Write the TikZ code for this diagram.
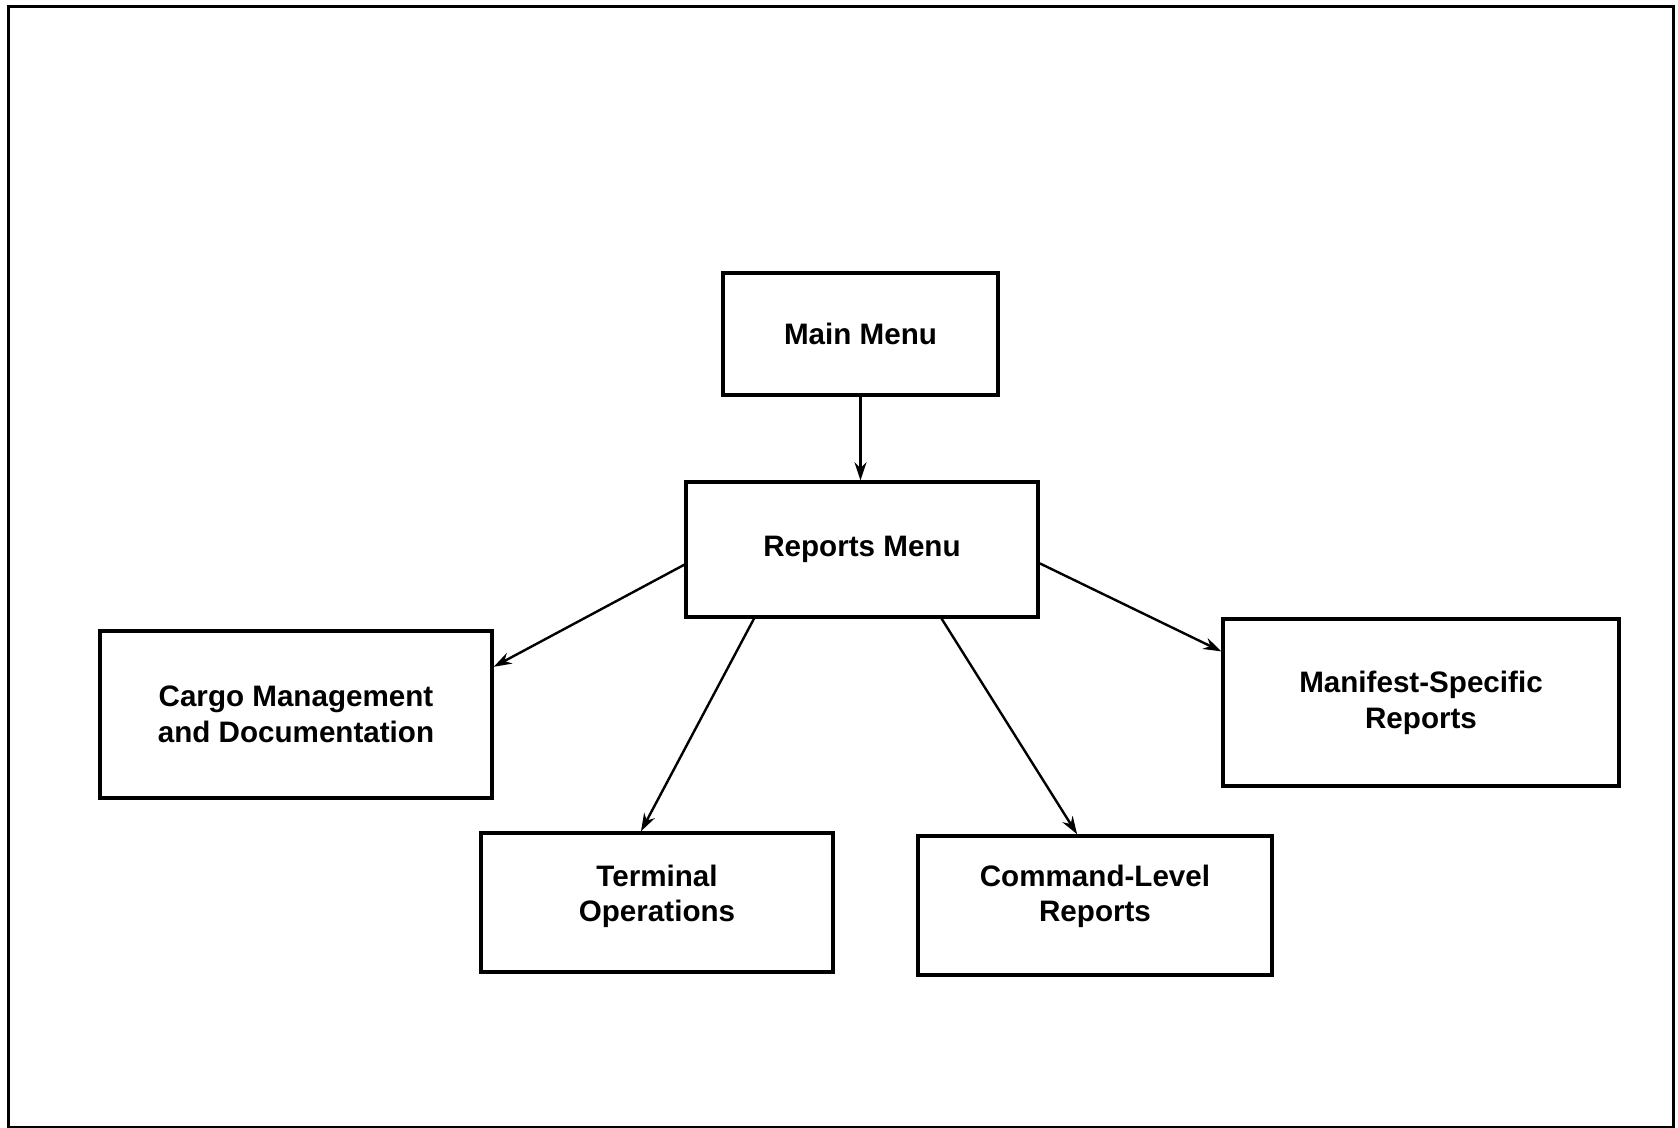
\documentclass[tikz,border=0pt]{standalone}
\usepackage{fontspec}
\setmainfont{Liberation Sans}
\usetikzlibrary{arrows.meta,calc}
\begin{document}
\begin{tikzpicture}[x=0.5pt,y=-0.5pt,
  box/.style={draw,line width=1.7pt,inner sep=0pt,align=center,
    font=\bfseries\fontsize{14.8}{18}\selectfont},
  lbl/.style={inner sep=0pt,align=center,font=\bfseries\fontsize{14.8}{17.5}\selectfont},
  conn/.style={line width=1.2pt,-{Stealth[length=9pt,width=6pt]}}]
\useasboundingbox (0,0) rectangle (1678,1128);
\draw[line width=1.5pt] (8,7) rectangle (1673,1127);
\node[box,minimum width=137.5pt,minimum height=61pt] (main) at (860.5,334) {Main Menu};
\node[box,minimum width=176pt,minimum height=67.5pt] (rep) at (862,549.5) {Reports Menu};
\node[box,minimum width=196pt,minimum height=83.5pt] (cargo) at (296,714.5) {Cargo Management\\and Documentation};
\node[box,minimum width=176pt,minimum height=69.5pt] (term) at (657,902.5) {};
\node[lbl] (termtxt) at ($(term.center)+(0,-6)$) {Terminal\\Operations};
\node[box,minimum width=177pt,minimum height=69.5pt] (cmd) at (1095,905.5) {};
\node[lbl] (cmdtxt) at ($(cmd.center)+(0,-9)$) {Command-Level\\Reports};
\node[box,minimum width=198pt,minimum height=83.5pt] (man) at (1421,702.5) {Manifest-Specific\\Reports};
\draw[conn] (main.south) -- (main.south |- rep.north);
\draw[conn] ($(rep.north west)!0.61!(rep.south west)$) -- ($(cargo.north east)!0.22!(cargo.south east)$);
\draw[conn] ($(rep.south west)!0.196!(rep.south east)$) -- ($(term.north west)!0.455!(term.north east)$);
\draw[conn] ($(rep.south west)!0.724!(rep.south east)$) -- ($(cmd.north west)!0.45!(cmd.north east)$);
\draw[conn] ($(rep.north east)!0.6!(rep.south east)$) -- ($(man.north west)!0.2!(man.south west)$);
\end{tikzpicture}
\end{document}
